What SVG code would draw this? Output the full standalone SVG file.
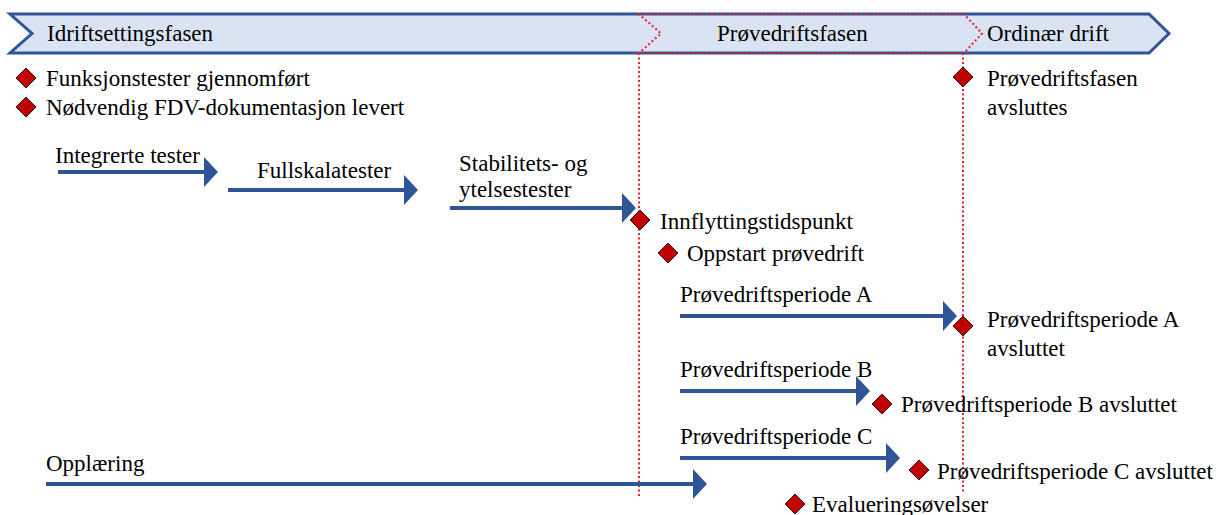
<svg xmlns="http://www.w3.org/2000/svg" width="1223" height="515" viewBox="0 0 1223 515">
<defs>
<style>
.t{font-family:'Liberation Serif','Times New Roman',serif;font-size:23px;fill:#000}
.arr{stroke:#2f5597;stroke-width:4;fill:none}
.dot{stroke:#e0202c;stroke-width:2;stroke-dasharray:2 2.5;fill:none}
.dia{fill:#c00000;stroke:#000;stroke-width:0.8}
</style>
<marker id="ah" markerUnits="userSpaceOnUse" markerWidth="15" markerHeight="30" refX="0" refY="15" orient="auto" overflow="visible">
<path d="M0,0 L14,15 L0,30 Z" fill="#2f5597"/>
</marker>
<path id="dm" d="M0,-10 L10,0 L0,10 L-10,0 Z"/>
</defs>
<rect width="1223" height="515" fill="#fff"/>
<g class="t">
<g id="banner">
<polygon points="10,14 1149,14 1169,33.5 1149,53 10,53 32,33.5" fill="#dae3f3" stroke="#2f5597" stroke-width="3"/>
<text x="47" y="41">Idriftsettingsfasen</text>
<text x="717" y="41">Prøvedriftsfasen</text>
<text x="987" y="41">Ordinær drift</text>
</g>
<g id="phase-markers">
<polygon class="dot" points="639,14 964,14 982,33.5 964,53 639,53 661,33.5"/>
<line class="dot" x1="639" y1="53" x2="639" y2="497"/>
<line class="dot" x1="963" y1="53" x2="963" y2="493"/>
</g>
<g id="connectors">
<line class="arr" x1="58" y1="172" x2="204" y2="172" marker-end="url(#ah)"/>
<line class="arr" x1="228" y1="190" x2="404" y2="190" marker-end="url(#ah)"/>
<line class="arr" x1="450" y1="208" x2="622" y2="208" marker-end="url(#ah)"/>
<line class="arr" x1="680" y1="316" x2="943" y2="316" marker-end="url(#ah)"/>
<line class="arr" x1="680" y1="391" x2="856" y2="391" marker-end="url(#ah)"/>
<line class="arr" x1="680" y1="458" x2="886" y2="458" marker-end="url(#ah)"/>
<line class="arr" x1="46" y1="484" x2="693" y2="484" marker-end="url(#ah)"/>
</g>
<g id="label-integrerte"><text x="55" y="163">Integrerte tester</text></g>
<g id="label-fullskala"><text x="257" y="178">Fullskalatester</text></g>
<g id="label-stabilitet"><text x="459" y="171">Stabilitets- og</text><text x="459" y="197">ytelsestester</text></g>
<g id="label-periodeA"><text x="680" y="302">Prøvedriftsperiode A</text></g>
<g id="label-periodeB"><text x="680" y="377">Prøvedriftsperiode B</text></g>
<g id="label-periodeC"><text x="680" y="444">Prøvedriftsperiode C</text></g>
<g id="label-opplaering"><text x="46" y="471">Opplæring</text></g>
<g id="m-funksjon"><use href="#dm" class="dia" x="26" y="78"/><text x="46" y="86">Funksjonstester gjennomført</text></g>
<g id="m-fdv"><use href="#dm" class="dia" x="26" y="107"/><text x="46" y="115">Nødvendig FDV-dokumentasjon levert</text></g>
<g id="m-fase-slutt"><use href="#dm" class="dia" x="963" y="77"/><text x="987" y="86">Prøvedriftsfasen</text><text x="987" y="115">avsluttes</text></g>
<g id="m-innflytting"><use href="#dm" class="dia" x="640" y="220"/><text x="660" y="229">Innflyttingstidspunkt</text></g>
<g id="m-oppstart"><use href="#dm" class="dia" x="668" y="253"/><text x="687" y="261">Oppstart prøvedrift</text></g>
<g id="m-periodeA"><use href="#dm" class="dia" x="963" y="326"/><text x="987" y="327">Prøvedriftsperiode A</text><text x="987" y="356">avsluttet</text></g>
<g id="m-periodeB"><use href="#dm" class="dia" x="882" y="404"/><text x="901" y="412">Prøvedriftsperiode B avsluttet</text></g>
<g id="m-periodeC"><use href="#dm" class="dia" x="919" y="470"/><text x="937" y="479">Prøvedriftsperiode C avsluttet</text></g>
<g id="m-evaluering"><use href="#dm" class="dia" x="795" y="504"/><text x="812" y="512">Evalueringsøvelser</text></g>
</g>
</svg>
